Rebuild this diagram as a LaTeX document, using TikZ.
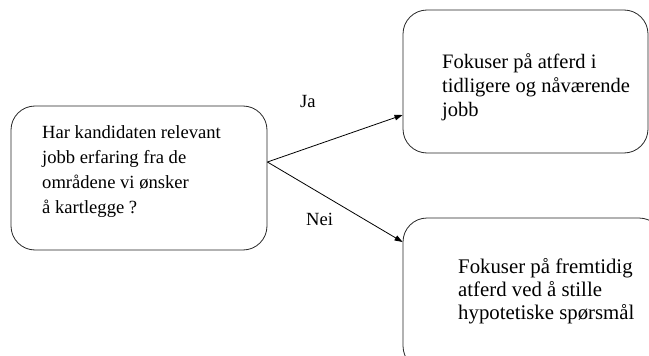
\documentclass[tikz,border=0pt]{standalone}
\usepackage{fontspec}
\setmainfont{Liberation Serif}
\usetikzlibrary{arrows.meta}
\begin{document}
\begin{tikzpicture}[x=1pt,y=-1pt,
  box/.style={draw=black!85,line width=0.8pt,rounded corners=24pt,inner sep=0pt},
  txt/.style={anchor=base west,inner sep=0pt,font=\fontsize{20.5}{24}\selectfont},
  ltxt/.style={txt,font=\fontsize{18.6}{24}\selectfont},
  btxt/.style={txt,font=\fontsize{20.8}{24}\selectfont},
  arr/.style={line width=0.8pt,-{Triangle[length=8pt,width=5.5pt]}}]
\useasboundingbox (0,0) rectangle (649,356);
\begin{scope}
\clip (0,0) rectangle (649,356);
\node[box,minimum width=256pt,minimum height=144pt] (L) at (139,178) {};
\node[box,minimum width=245pt,minimum height=143pt] (T) at (525.5,81.5) {};
\node[box,minimum width=260pt,minimum height=152pt] (B) at (533,294) {};
\end{scope}
\node[ltxt] (l1) at (42,138) {Har kandidaten relevant};
\node[ltxt] (l2) at (42,163) {jobb erfaring fra de};
\node[ltxt] (l3) at (42,188) {områdene vi ønsker};
\node[ltxt] (l4) at (42,213) {å kartlegge ?};
\node[txt] (t1) at (442,68) {Fokuser på atferd i};
\node[txt] (t2) at (442,92) {tidligere og nåværende};
\node[txt] (t3) at (442,116) {jobb};
\node[btxt] (b1) at (458,273) {Fokuser på fremtidig};
\node[btxt] (b2) at (458,296) {atferd ved å stille};
\node[btxt] (b3) at (458,319) {hypotetiske spørsmål};
\node[ltxt] (ja) at (300,107) {Ja};
\node[ltxt] (nei) at (306,225) {Nei};
\draw[arr] ([yshift=16pt]L.east) -- ([yshift=-33.5pt]T.west);
\draw[arr] ([yshift=16pt]L.east) -- ([yshift=52pt]B.west);
\end{tikzpicture}
\end{document}
